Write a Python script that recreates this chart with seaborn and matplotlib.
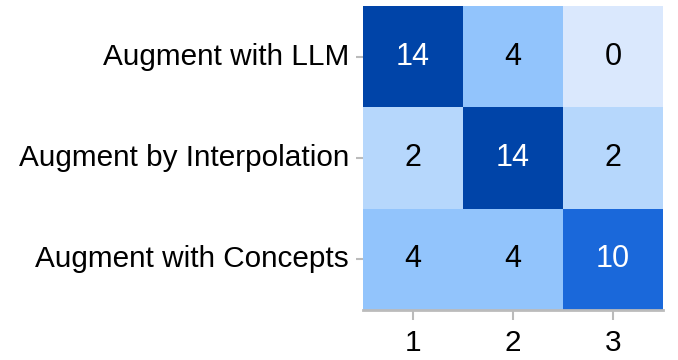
import numpy as np
import pandas as pd
import seaborn as sns
import matplotlib.pyplot as plt
from matplotlib.colors import LinearSegmentedColormap

# data
rows = ["Augment with LLM", "Augment by Interpolation", "Augment with Concepts"]
cols = ["1", "2", "3"]
counts = [[14, 4, 0],
          [2, 14, 2],
          [4, 4, 10]]

df = pd.DataFrame(counts, index=rows, columns=cols)

plt.rcParams['font.family'] = ['Liberation Sans', 'DejaVu Sans']

# colour ramp anchored at the values seen in the chart
cmap = LinearSegmentedColormap.from_list(
    "blues_custom",
    [(0.0, "#dae8fd"), (2 / 14, "#b6d7fc"), (4 / 14, "#92c4fc"),
     (10 / 14, "#1a68da"), (1.0, "#0044a8")])

fig = plt.figure(figsize=(6.78, 3.6), dpi=100)
ax = fig.add_axes([363 / 678, 1 - 310 / 360, 300 / 678, 304 / 360])

sns.heatmap(df, ax=ax, cmap=cmap, vmin=0, vmax=14, cbar=False,
            annot=True, fmt="d", annot_kws={"size": 22})

# black text on light cells, white on dark ones
for t in ax.texts:
    t.set_color("white" if int(t.get_text()) >= 10 else "black")

ax.set_xlabel("")
ax.set_ylabel("")
ax.tick_params(axis="y", length=5, width=1.5, color="#bbbbbb", pad=5,
               labelsize=21.4, labelrotation=0, labelcolor="black")
ax.tick_params(axis="x", length=7, width=1.5, color="#bbbbbb", pad=7,
               labelsize=21.4, labelcolor="black")
for side in ["left", "top", "right"]:
    ax.spines[side].set_visible(False)
ax.spines["bottom"].set_visible(True)
ax.spines["bottom"].set_color("#bbbbbb")
ax.spines["bottom"].set_linewidth(2)

fig.savefig("out.png", dpi=100)
